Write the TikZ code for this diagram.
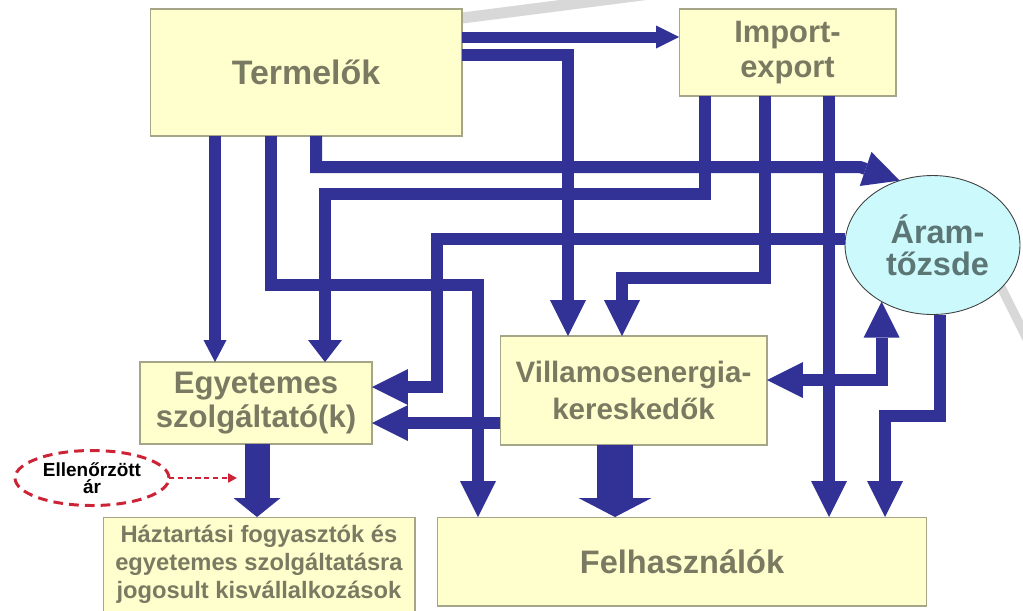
\documentclass[tikz,border=0pt]{standalone}
\usepackage{fontspec}
\setmainfont{Liberation Sans}
\usetikzlibrary{arrows.meta,shapes.geometric}

\definecolor{arrowblue}{RGB}{50,50,150}
\definecolor{boxfill}{RGB}{255,255,206}
\definecolor{boxline}{RGB}{165,165,135}
\definecolor{boxtext}{RGB}{122,122,98}
\definecolor{tozsdefill}{RGB}{204,250,252}
\definecolor{tozsdetext}{RGB}{92,118,118}
\definecolor{pricered}{RGB}{205,35,55}
\definecolor{backline}{RGB}{216,216,216}

\begin{document}
\begin{tikzpicture}[x=0.02cm,y=-0.02cm, %piaci szereplok es aramlasok
    >={Triangle[length=0.72cm,width=0.72cm,line width=0pt]},
    box/.style={rectangle,draw=boxline,fill=boxfill,line width=0.6pt,inner sep=0pt,outer sep=0pt,text=boxtext,align=center},
    flow/.style={draw=arrowblue,line width=0.24cm,->}]

            \fill[white] (0,0) rectangle (1023,610);
            \useasboundingbox (0,0) rectangle (1023,610);

            \draw[backline,line width=0.22cm] (400,26) -- (650,-6);
            \draw[backline,line width=0.18cm] (985,255) -- (1040,365);

            \node[box,minimum width=6.24cm,minimum height=2.54cm,font=\bfseries\fontsize{19.3}{22}\selectfont] (term) at (306,72.5) {Termelők};
            \node[box,minimum width=4.34cm,minimum height=1.74cm,font=\bfseries\fontsize{17.6}{20.4}\selectfont] (impex) at (787.5,52.5) {Import-\\export};
            \node[ellipse,draw=black!75,fill=tozsdefill,line width=0.5pt,inner sep=0pt,outer sep=0pt,minimum width=3.5cm,minimum height=2.78cm,text=tozsdetext,align=center,font=\bfseries\fontsize{18.5}{18.5}\selectfont] (aram) at (932.5,245) {\hspace*{0.2cm}Áram-\\\hspace*{0.2cm}tőzsde};
            \node[box,minimum width=4.64cm,minimum height=1.64cm,font=\bfseries\fontsize{17.7}{19.8}\selectfont] (egyet) at (256,403) {Egyetemes\\szolgáltató(k)};
            \node[box,minimum width=5.34cm,minimum height=2.18cm,font=\bfseries\fontsize{16.8}{21.5}\selectfont] (villam) at (633.5,390.5) {Villamosenergia-\\kereskedők};
            \node[box,minimum width=6.24cm,minimum height=1.9cm,font=\bfseries\fontsize{13.5}{16}\selectfont] (haztart) at (259,564.5) {Háztartási fogyasztók és\\egyetemes szolgáltatásra\\jogosult kisvállalkozások};
            \node[box,minimum width=9.8cm,minimum height=1.78cm,font=\bfseries\fontsize{18.5}{21}\selectfont] (felh) at (682,561.5) {Felhasználók};
            \node[ellipse,draw=pricered,line width=1.7pt,dash pattern=on 5.5pt off 3.5pt,inner sep=0pt,outer sep=0pt,minimum width=3.08cm,minimum height=1.1cm,align=center,font=\bfseries\fontsize{10.8}{9.8}\selectfont] (ellen) at (92,478) {Ellenőrzött\\ár};

            \coordinate (price) at (237,478);

            \draw[flow,line width=0.22cm,-{Triangle[length=0.46cm,width=0.46cm,line width=0pt]}] (term.east |- 0,37) -- (impex.west |- 0,37);
            \draw[flow] (term.east |- 0,55) -| (villam.north -| 568,0);
            \draw[flow,-{Triangle[length=0.44cm,width=0.46cm,line width=0pt]}] (term.south -| 215,0) -- (egyet.north -| 215,0);
            \draw[flow] (term.south -| 271,0) |- (478,285) -- (felh.north -| 478,0);
            \draw[flow] (term.south -| 316,0) |- (860,167) -- (aram.117);

            \draw[flow,-{Triangle[length=0.44cm,width=0.68cm,line width=0pt]}] (impex.south -| 705,0) |- (325,194) -- (egyet.north -| 325,0);
            \draw[flow] (impex.south -| 765,0) |- (622,278) -- (villam.north -| 622,0);
            \draw[flow] (impex.south -| 829,0) -- (felh.north -| 829,0);

            \draw[flow] (aram.west |- 0,239) -| (437,387) -- (egyet.east |- 0,387);
            \draw[flow,<->] (villam.east |- 0,380) -| (aram.228);
            \draw[flow] (aram.south -| 940,0) |- (885,416) -- (felh.north -| 885,0);
            \draw[flow] (villam.west |- 0,423) -- (egyet.east |- 0,423);

            \draw[flow,line width=0.72cm,-{Triangle[length=0.38cm,width=1.46cm,line width=0pt]}] (villam.south -| 615,0) -- (felh.north -| 615,0);
            \draw[flow,line width=0.5cm,-{Triangle[length=0.38cm,width=0.94cm,line width=0pt]}] (egyet.south -| 257,0) -- (haztart.north -| 257,0);

            \draw[pricered,line width=1.2pt,dash pattern=on 3pt off 2pt,-{Triangle[length=5pt,width=5pt]}] (ellen.east) -- (price);
\end{tikzpicture}
\end{document}
